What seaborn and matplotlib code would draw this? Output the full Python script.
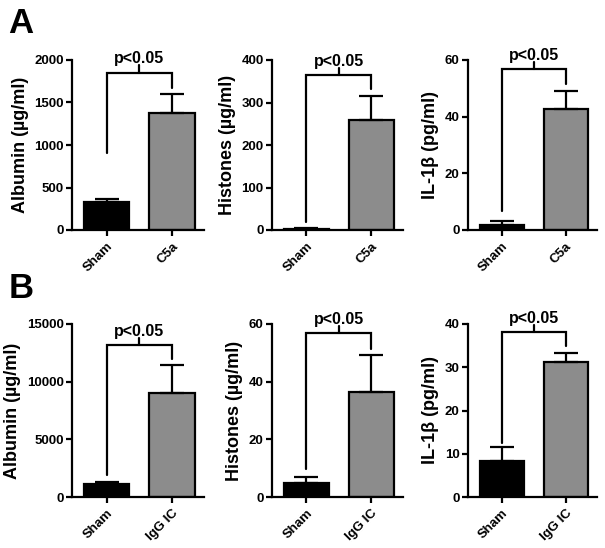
import matplotlib
matplotlib.use("Agg")
import matplotlib.pyplot as plt
import seaborn as sns
import pandas as pd
import numpy as np

sns.set_theme(style="ticks")
plt.rcParams['font.family'] = ['Liberation Sans', 'DejaVu Sans']
plt.rcParams['font.weight'] = 'bold'
plt.rcParams['axes.labelweight'] = 'bold'
for k in ['text.color', 'axes.labelcolor', 'xtick.color', 'ytick.color', 'axes.edgecolor']:
    plt.rcParams[k] = 'black'

# ---- data ----
groups_A = ["Sham", "C5a"]
groups_B = ["Sham", "IgG IC"]

albumin_A_mean = [333, 1380]
albumin_A_sem = [28, 216]
histones_A_mean = [3, 259]
histones_A_sem = [1.5, 56]
il1b_A_mean = [1.8, 42.6]
il1b_A_sem = [1.4, 6.5]

albumin_B_mean = [1130, 8980]
albumin_B_sem = [150, 2430]
histones_B_mean = [5.0, 36.4]
histones_B_sem = [1.9, 12.7]
il1b_B_mean = [8.3, 31.2]
il1b_B_sem = [3.3, 2.1]

ylabels = ["Albumin (µg/ml)", "Histones (µg/ml)", "IL-1β (pg/ml)"]
ylims_A = [2000, 400, 60]
yticks_A = [[0, 500, 1000, 1500, 2000], [0, 100, 200, 300, 400], [0, 20, 40, 60]]
ylims_B = [15000, 60, 40]
yticks_B = [[0, 5000, 10000, 15000], [0, 20, 40, 60], [0, 10, 20, 30, 40]]
sig_label = "p<0.05"

# bracket geometry in axes-fraction units: (top, left leg end, right leg end, tick top)
brackets_A = [(0.926, 0.453, 0.835, 0.970), (0.912, 0.05, 0.83, 0.952), (0.948, 0.11, 0.86, 0.987)]
brackets_B = [(0.876, 0.125, 0.80, 0.917), (0.950, 0.16, 0.857, 0.986), (0.955, 0.315, 0.873, 0.994)]

BLACK = "#000000"
GRAY = "#8c8c8c"

W, H = 605, 548
fig = plt.figure(figsize=(W / 100, H / 100), dpi=100)

lefts = [72, 272, 468]
widths = [132, 131, 129]
rows = [(60, 230), (324, 497)]


def make_ax(left, width, top, bottom):
    return fig.add_axes([left / W, 1 - bottom / H, width / W, (bottom - top) / H])


def panel(ax, groups, means, sems, ylabel, ymax, yticks, br):
    df = pd.DataFrame({"group": groups, "value": means})
    sns.barplot(data=df, x="group", y="value", hue="group", palette=[BLACK, GRAY],
                edgecolor="black", linewidth=1.6, width=0.69, errorbar=None,
                legend=False, ax=ax, zorder=2)
    ax.errorbar(x=np.arange(len(groups)), y=means, yerr=[np.zeros(len(sems)), sems],
                fmt="none", ecolor="black", elinewidth=1.6, capsize=8.5, capthick=1.6, zorder=3)
    ax.set_xlim(-0.53, 1.49)
    ax.set_ylim(0, ymax)
    ax.set_yticks(yticks)
    ax.set_xlabel("")
    ax.set_ylabel(ylabel, fontsize=13, fontweight="bold", labelpad=4)
    for s in ["top", "right"]:
        ax.spines[s].set_visible(False)
    for s in ["left", "bottom"]:
        ax.spines[s].set_linewidth(1.6)
    ax.tick_params(axis="both", direction="out", length=4.5, width=1.6, pad=1.5, labelsize=9.5)
    ax.tick_params(axis="x", pad=3)
    ax.set_xticks(range(len(groups)))
    ax.set_xticklabels(groups, rotation=45, ha="right", rotation_mode="anchor",
                       fontsize=9.5, fontweight="bold")
    for lab in ax.get_yticklabels():
        lab.set_fontweight("bold")
    # significance bracket
    top, lleg, rleg, ttop = br
    tr = ax.get_xaxis_transform()
    ax.plot([0, 0, 1, 1], [lleg, top, top, rleg], color="black", lw=1.6,
            transform=tr, clip_on=False, solid_joinstyle="miter", zorder=4)
    ax.plot([0.5, 0.5], [top, ttop], color="black", lw=1.6, transform=tr, clip_on=False, zorder=4)
    ax.text(0.5, ttop - 0.005, sig_label, transform=tr, ha="center", va="bottom",
            fontsize=11.5, fontweight="bold", clip_on=False)


dataA = [(albumin_A_mean, albumin_A_sem), (histones_A_mean, histones_A_sem), (il1b_A_mean, il1b_A_sem)]
dataB = [(albumin_B_mean, albumin_B_sem), (histones_B_mean, histones_B_sem), (il1b_B_mean, il1b_B_sem)]

for i in range(3):
    ax = make_ax(lefts[i], widths[i], *rows[0])
    panel(ax, groups_A, dataA[i][0], dataA[i][1], ylabels[i], ylims_A[i], yticks_A[i], brackets_A[i])
    ax = make_ax(lefts[i], widths[i], *rows[1])
    panel(ax, groups_B, dataB[i][0], dataB[i][1], ylabels[i], ylims_B[i], yticks_B[i], brackets_B[i])

fig.text(8 / W, 1 - 33 / H, "A", fontsize=25, fontweight="bold", ha="left", va="baseline")
fig.text(9 / W, 1 - 298 / H, "B", fontsize=25, fontweight="bold", ha="left", va="baseline")

fig.savefig("out.png", dpi=100, facecolor="white")
